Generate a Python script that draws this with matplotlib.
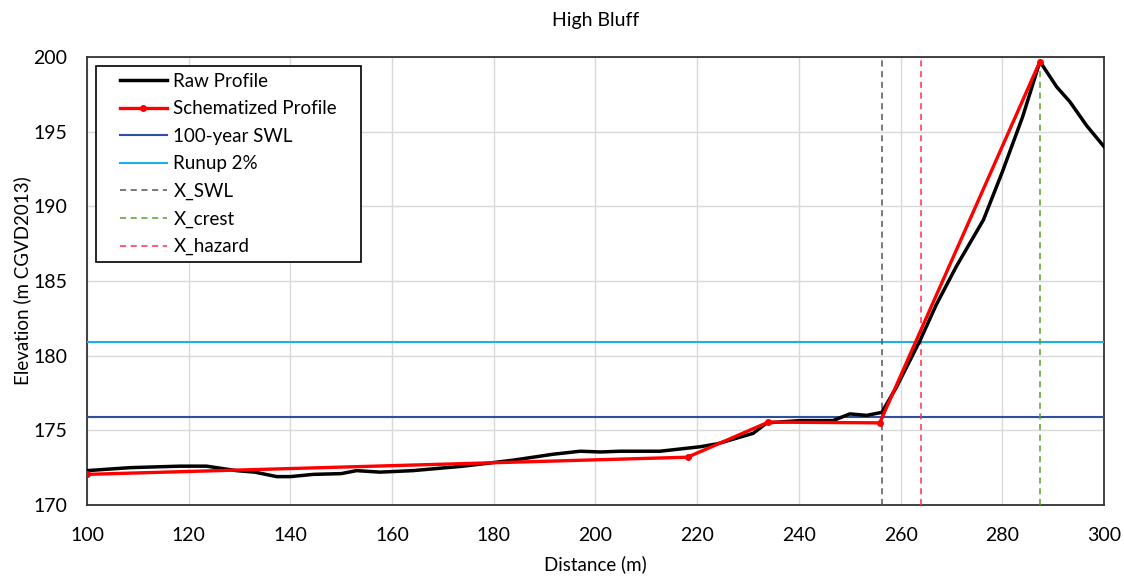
import matplotlib
matplotlib.use("Agg")
import matplotlib.pyplot as plt
from matplotlib.patches import Rectangle

# raw profile (distance m, elevation m)
raw_x = [100, 108.5, 118.3, 123.5, 129.4, 133, 137.3, 140, 144.5, 150, 153, 157.6, 164.1, 174,
         183.8, 191.7, 197, 201, 204.8, 212.7, 220.6, 224, 228, 231, 233.7, 240.2, 246.7,
         250, 253.3, 256.3, 259.2, 263.8, 267, 271, 276.3, 280, 284, 287.4, 290.7, 293.3,
         296.6, 300]
raw_y = [172.3, 172.5, 172.6, 172.6, 172.3, 172.2, 171.9, 171.9, 172.05, 172.1, 172.3, 172.2,
         172.3, 172.6, 173.0, 173.4, 173.6, 173.55, 173.6, 173.6, 173.9, 174.1, 174.5, 174.8,
         175.5, 175.65, 175.65, 176.1, 176.0, 176.2, 177.9, 181.0, 183.4, 186.0, 189.1,
         192.3, 196.0, 199.7, 198.0, 197.0, 195.4, 194.0]

# schematized profile
sch_x = [100, 218.1, 234.0, 255.9, 287.4]
sch_y = [172.05, 173.2, 175.55, 175.5, 199.7]

swl = 175.9
runup = 180.93
x_swl = 256.3
x_crest = 287.4
x_hazard = 264.0

plt.rcParams["font.family"] = ["Lato", "DejaVu Sans"]

fig = plt.figure(figsize=(11.24, 5.76), dpi=100)
ax = fig.add_axes([0.0774, 0.1233, 0.9048, 0.7777])

ax.plot(raw_x, raw_y, color="black", lw=2.5, label="Raw Profile", zorder=4)
ax.plot(sch_x, sch_y, color="#ff0000", lw=2.4, marker="o", markersize=4,
        label="Schematized Profile", zorder=5)
ax.axhline(swl, color="#2f4f9f", lw=1.5, label="100-year SWL", zorder=3)
ax.axhline(runup, color="#1cb0e8", lw=1.5, label="Runup 2%", zorder=3)
ax.axvline(x_swl, color="#555555", lw=1.1, ls=(0, (4, 3)), label="X_SWL", zorder=3)
ax.axvline(x_crest, color="#5aa02c", lw=1.1, ls=(0, (4, 3)), label="X_crest", zorder=3)
ax.axvline(x_hazard, color="#ff3050", lw=1.1, ls=(0, (4, 3)), label="X_hazard", zorder=3)

ax.set_xlim(100, 300)
ax.set_ylim(170, 200)
ax.set_xticks(range(100, 301, 20))
ax.set_yticks(range(170, 201, 5))
ax.grid(True, color="#d9d9d9", lw=1.0)
ax.tick_params(axis="x", length=0, labelsize=14, pad=16)
ax.tick_params(axis="y", length=0, labelsize=14, pad=14)
for s in ax.spines.values():
    s.set_color("#333333")
    s.set_linewidth(1.3)

ax.set_title("High Bluff", fontsize=14, pad=22)
ax.set_xlabel("Distance (m)", fontsize=13.5, labelpad=8)
ax.set_ylabel("Elevation (m CGVD2013)", fontsize=13.5, labelpad=2)

leg = ax.legend(loc="upper left", fontsize=13.5, frameon=False, borderpad=0,
                handlelength=2.5, labelspacing=0.56, handletextpad=0.35,
                bbox_to_anchor=(0.0324, 0.965), borderaxespad=0)
leg.set_zorder(10)

# legend frame with wider side padding than matplotlib allows
fig.canvas.draw()
bb = leg.get_window_extent()
fw, fh = fig.bbox.width, fig.bbox.height
padx, pady = 24, 7
frame = Rectangle(((bb.x0 - padx) / fw, (bb.y0 - pady) / fh),
                  (bb.width + 2 * padx) / fw, (bb.height + 2 * pady) / fh,
                  transform=fig.transFigure, facecolor="white", edgecolor="black",
                  lw=1.2, zorder=9)
ax.add_artist(frame)

fig.savefig("out.png", dpi=100)
